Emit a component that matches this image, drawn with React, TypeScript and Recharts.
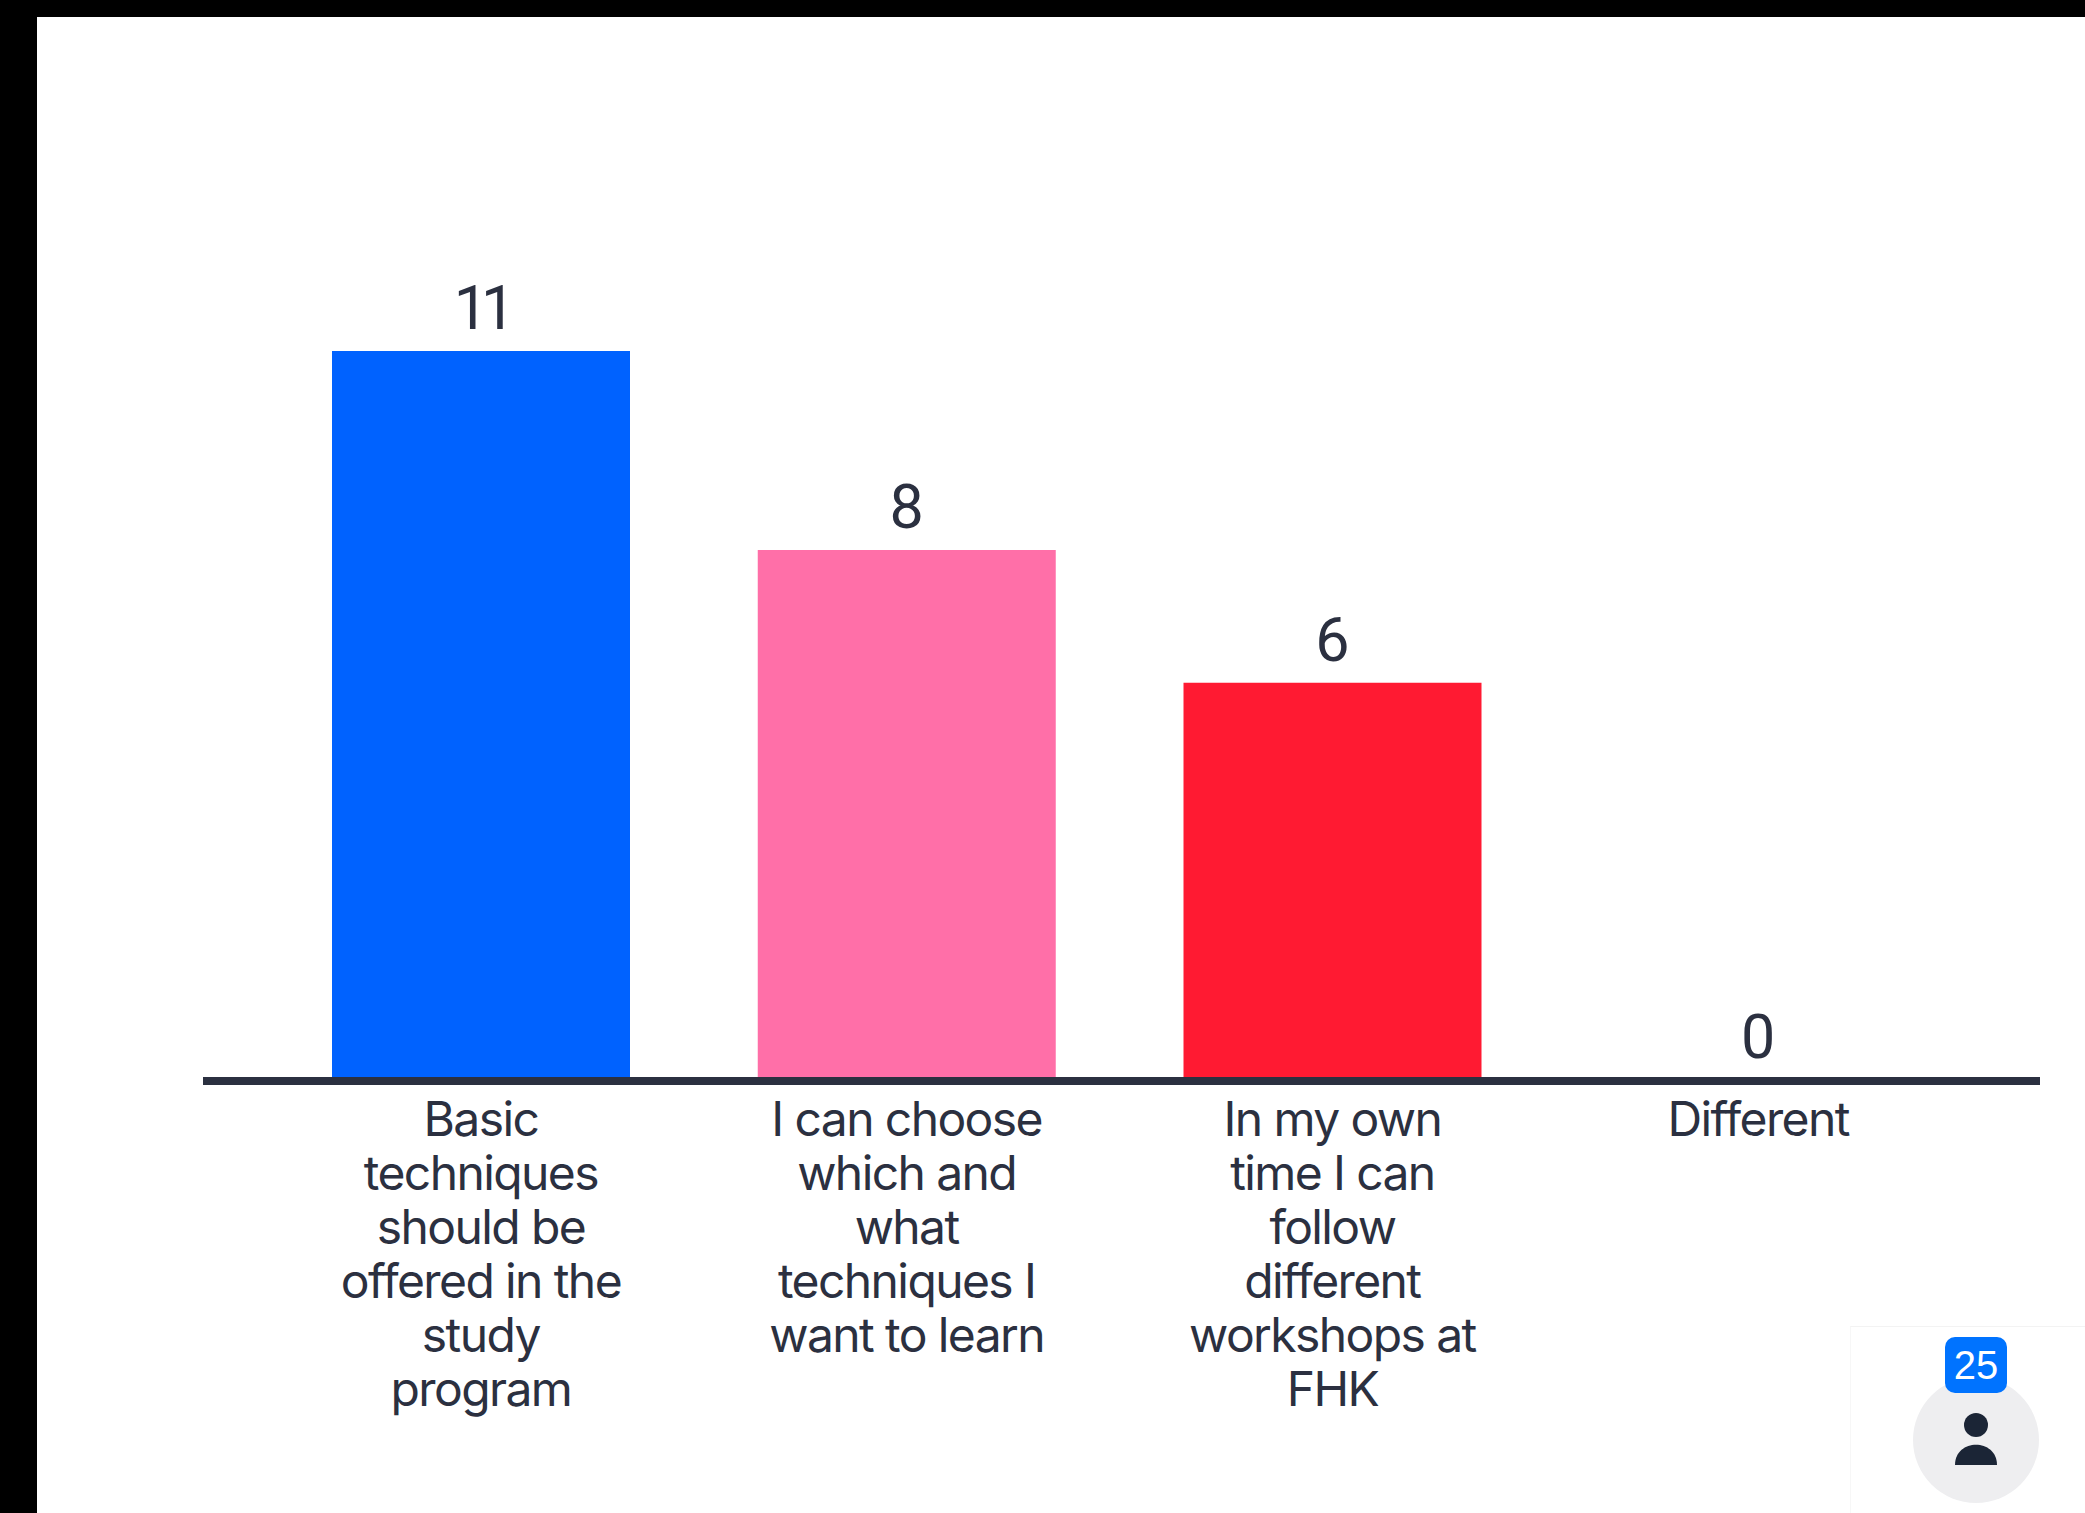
import React from 'react';
import { BarChart, Bar, XAxis, YAxis, Cell, LabelList } from 'recharts';

const categories = [
  'Basic techniques should be offered in the study program',
  'I can choose which and what techniques I want to learn',
  'In my own time I can follow different workshops at FHK',
  'Different',
];
const categoryLines = [
  ['Basic', 'techniques', 'should be', 'offered in the', 'study', 'program'],
  ['I can choose', 'which and', 'what', 'techniques I', 'want to learn'],
  ['In my own', 'time I can', 'follow', 'different', 'workshops at', 'FHK'],
  ['Different'],
];
const votes = [11, 8, 6, 0];
const barColors = ['#0062ff', '#ff6fa8', '#ff1a32', '#2b3040'];
const responseCount = '25';

const chartData = categories.map((name, i) => ({ name, votes: votes[i] }));

const INK = '#2b3040';

function CategoryTick({ x, y, index }: any) {
  const lines = categoryLines[index] || [];
  return (
    <text
      x={x}
      y={y}
      textAnchor="middle"
      fill={INK}
      fontFamily="Inter, sans-serif"
      fontSize={48}
      letterSpacing={-1.6}
    >
      {lines.map((line, i) => (
        <tspan key={line} x={x} dy={i === 0 ? 0 : 54}>
          {line}
        </tspan>
      ))}
    </text>
  );
}

function VoteLabel({ x, y, width, value }: any) {
  return (
    <text
      x={x + width / 2}
      y={y - 22}
      textAnchor="middle"
      fill={INK}
      fontFamily="Roboto, sans-serif"
      fontSize={61}
      letterSpacing={value > 9 ? -7 : 0}
    >
      {value}
    </text>
  );
}

export default function App() {
  return (
    <div style={{ position: 'fixed', left: 0, top: 0, width: 2085, height: 1513, background: '#000', overflow: 'hidden' }}>
      <div style={{ position: 'absolute', left: 37, top: 17, width: 2048, height: 1496, background: '#fff' }} />
      <div style={{ position: 'absolute', left: 0, top: 0 }}>
        <BarChart
          width={2085}
          height={1513}
          data={chartData}
          margin={{ top: 351, right: 45, bottom: 0, left: 203 }}
          barSize={298}
        >
          <XAxis
            dataKey="name"
            height={432}
            interval={0}
            padding={{ left: 65, right: 69 }}
            axisLine={{ stroke: INK, strokeWidth: 8 }}
            tickLine={false}
            tick={<CategoryTick />}
            tickMargin={49}
          />
          <YAxis hide domain={[0, 11]} />
          {/* the 0 bar needs a sliver of height or its label is dropped; it sits under the axis line */}
          <Bar dataKey="votes" isAnimationActive={false} minPointSize={1}>
            {chartData.map((d, i) => (
              <Cell key={d.name} fill={barColors[i]} />
            ))}
            <LabelList dataKey="votes" content={<VoteLabel />} />
          </Bar>
        </BarChart>
      </div>
      {/* participant counter in the corner */}
      <div style={{ position: 'absolute', left: 1850, top: 1326, width: 235, height: 187, background: '#fff', borderTop: '1px solid #f3f3f3', borderLeft: '1px solid #f7f7f7' }} />
      <div style={{ position: 'absolute', left: 1913, top: 1377, width: 126, height: 126, borderRadius: '50%', background: '#eeeef0' }} />
      <svg style={{ position: 'absolute', left: 1950, top: 1410 }} width={52} height={58} viewBox="0 0 52 58">
        <circle cx={26} cy={15} r={12} fill="#1b2536" />
        <path d="M5 55 C5 28 47 28 47 55 Z" fill="#1b2536" />
      </svg>
      <div
        style={{
          position: 'absolute',
          left: 1945,
          top: 1337,
          width: 62,
          height: 56,
          borderRadius: 10,
          background: '#0073ff',
          color: '#fff',
          fontFamily: "'Liberation Sans', Arial, sans-serif",
          fontSize: 40,
          lineHeight: '56px',
          textAlign: 'center',
        }}
      >
        {responseCount}
      </div>
    </div>
  );
}
